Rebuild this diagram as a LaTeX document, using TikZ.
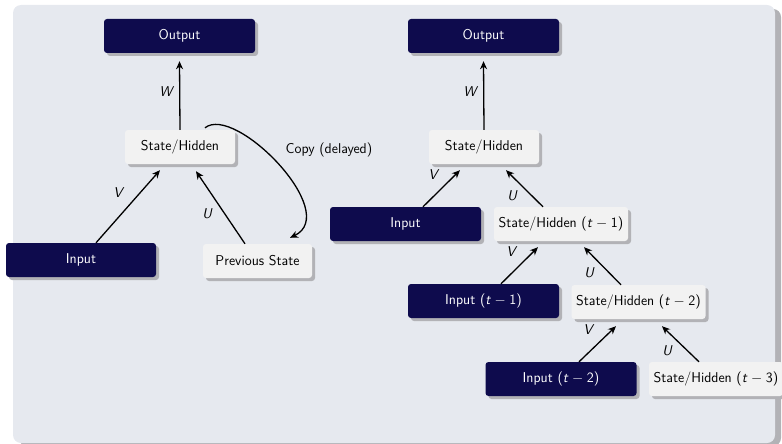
\documentclass[tikz,border=0pt]{standalone}
\usepackage{fontspec}
\usetikzlibrary{arrows.meta,shadows,calc}
\definecolor{navy}{RGB}{14,11,77}
\definecolor{lightbox}{RGB}{242,242,242}
\definecolor{bgc}{RGB}{230,233,239}
\definecolor{shd}{RGB}{178,178,182}
\newcommand{\tm}[1]{(\textit{t}\hspace{0.25em}$-$\hspace{0.25em}#1)}
\tikzset{
  base/.style={rounded corners=3pt, minimum height=34pt, inner sep=0pt,
    font=\fontsize{14.2}{17}\selectfont\sffamily,
    drop shadow={shadow xshift=3pt, shadow yshift=-3pt, fill=shd, opacity=1}},
  darkbox/.style={base, fill=navy, text=white},
  litebox/.style={base, fill=lightbox, text=black},
  arr/.style={-{Stealth[length=8pt,width=7pt,inset=2.5pt]}, line width=1.3pt},
  lab/.style={font=\fontsize{14.2}{17}\selectfont\sffamily\itshape},
  copylab/.style={font=\fontsize{14.2}{17}\selectfont\sffamily}
}
\begin{document}
\begin{tikzpicture}[x=1pt,y=-1pt]
\useasboundingbox (0,0) rectangle (782,444);
\fill[shd] (19,9) [rounded corners=8pt] rectangle (781,446);
\fill[bgc] (13,5) [rounded corners=8pt] rectangle (775,443);

% left diagram
\node[darkbox, minimum width=151pt] (out1) at (179.5,36) {Output};
\node[litebox, minimum width=110pt] (s1) at (180,147) {State/Hidden};
\node[darkbox, minimum width=150pt] (in1) at (81,260) {Input};
\node[litebox, minimum width=109pt] (prev) at (257.5,261) {Previous State};

\draw[arr] (s1.north) -- ($(out1.south)+(0,8)$);
\draw[arr] ($(in1.north)+(15,0)$) -- ($(s1.south)+(-20,6)$);
\draw[arr] ($(prev.north)+(-12.5,0)$) -- ($(s1.south)+(16,7)$);
\coordinate (cstart) at ($(s1.north)+(25,-2)$);
\coordinate (cend) at ($(prev.north)+(32.5,-6)$);
\draw[arr] (cstart) .. controls +(30,-24) and +(52,-25) .. (cend);

\node[lab] (w1) at (166,92) {W};
\node[lab] (v1) at (118,193) {V};
\node[lab] (u1) at (207,214) {U};
\node[copylab] (copy) at (329,150) {Copy (delayed)};

% right diagram
\node[darkbox, minimum width=151pt] (out2) at (483.5,36) {Output};
\node[litebox, minimum width=110pt] (s2) at (484,147) {State/Hidden};
\node[darkbox, minimum width=151pt] (in2) at (405.5,224) {Input};
\node[litebox, minimum width=134pt] (sh1) at (561,224) {State/Hidden \tm{1}};
\node[darkbox, minimum width=151pt] (in3) at (483.5,301) {Input \tm{1}};
\node[litebox, minimum width=134pt] (sh2) at (638.5,302) {State/Hidden \tm{2}};
\node[darkbox, minimum width=151pt] (in4) at (561,379) {Input \tm{2}};
\node[litebox, minimum width=134pt] (sh3) at (716,379) {State/Hidden \tm{3}};

\draw[arr] (s2.north) -- ($(out2.south)+(0,8)$);
\draw[arr] ($(in2.north)+(17.5,0)$) -- ($(s2.south)+(-24,6)$);
\draw[arr] ($(sh1.north)+(-18,0)$) -- ($(s2.south)+(22,6)$);
\draw[arr] ($(in3.north)+(17.5,0)$) -- ($(sh1.south)+(-23,6)$);
\draw[arr] ($(sh2.north)+(-17.5,0)$) -- ($(sh1.south)+(23,6)$);
\draw[arr] ($(in4.north)+(18,0)$) -- ($(sh2.south)+(-22.5,7)$);
\draw[arr] ($(sh3.north)+(-17,0)$) -- ($(sh2.south)+(23.5,7)$);

\node[lab] (w2) at (470,92) {W};
\node[lab] (v2) at (433,175) {V};
\node[lab] (u2) at (512,196) {U};
\node[lab] (v3) at (511,252) {V};
\node[lab] (u3) at (589,273) {U};
\node[lab] (v4) at (588,330) {V};
\node[lab] (u4) at (667,351) {U};
\end{tikzpicture}
\end{document}
